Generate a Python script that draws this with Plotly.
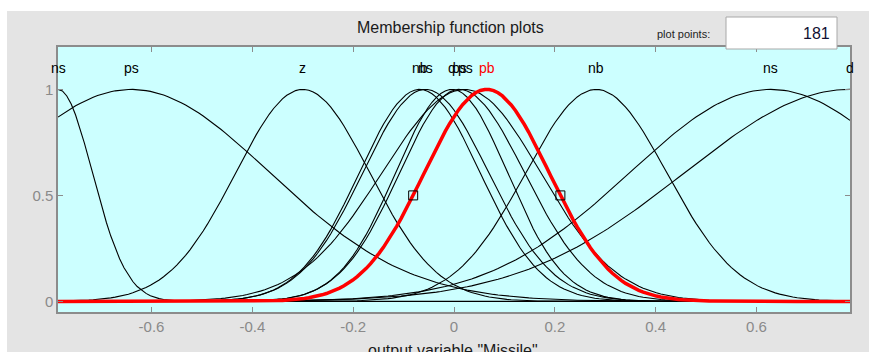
import numpy as np
import plotly.graph_objects as go

# Membership functions of output variable "Missile"
# (two-sided gaussian: center, left sigma, right sigma)
mf_names    = ["ns", "ps", "z", "nb", "ns", "d", "ps", "ps", "nb", "ns", "d", "pb"]
mf_centers  = [-0.785, -0.64, -0.30, -0.068, -0.057, -0.004, 0.010, 0.022, 0.282, 0.628, 0.785, 0.065]
mf_sigma_l  = [0.068, 0.275, 0.133, 0.120, 0.124, 0.112, 0.118, 0.165, 0.140, 0.280, 0.328, 0.124]
mf_sigma_r  = [0.068, 0.275, 0.133, 0.120, 0.126, 0.110, 0.130, 0.150, 0.140, 0.280, 0.328, 0.124]
selected_mf = "pb"  # highlighted (last) function
x_range = [-np.pi / 4, np.pi / 4]
plot_points = 181
x_ticks = [-0.6, -0.4, -0.2, 0, 0.2, 0.4, 0.6]
y_ticks = [0, 0.5, 1]

W, H = 869, 352
L, R, T, B = 58, 850, 47, 312  # plot area in pixels


def px(xp):
    return (xp - L) / (R - L)


def py(yp):
    return (B - yp) / (B - T)


xs = np.linspace(x_range[0], x_range[1], plot_points)
fig = go.Figure()

n = len(mf_names)
for i in range(n):
    c = mf_centers[i]
    s = np.where(xs < c, mf_sigma_l[i], mf_sigma_r[i])
    ys = np.exp(-((xs - c) ** 2) / (2 * s * s))
    sel = (i == n - 1)
    fig.add_trace(go.Scatter(
        x=xs, y=ys, mode="lines",
        line=dict(color="#ff0000" if sel else "#000000", width=3.5 if sel else 1.1),
        hoverinfo="skip", showlegend=False))

# half-height handles on selected MF
c = mf_centers[-1]
k = np.sqrt(2 * np.log(2))
fig.add_trace(go.Scatter(
    x=[c - mf_sigma_l[-1] * k, c + mf_sigma_r[-1] * k], y=[0.5, 0.5], mode="markers",
    marker=dict(symbol="square-open", size=9, color="#000000", line=dict(width=1)),
    hoverinfo="skip", showlegend=False))

# MF name labels
for i in range(n):
    sel = (i == n - 1)
    fig.add_annotation(x=mf_centers[i], y=1.1, xref="x", yref="y", text=mf_names[i],
                       showarrow=False, xanchor="center", yanchor="middle",
                       font=dict(family="Liberation Sans, Arial", size=14,
                                 color="#ff0000" if sel else "#000000"))

# white margins around the grey panel (top strip and left strip)
fig.add_shape(type="rect", xref="paper", yref="paper",
              x0=px(-5), x1=px(W + 5), y0=py(11), y1=py(-5),
              fillcolor="#ffffff", line=dict(width=0))
fig.add_shape(type="rect", xref="paper", yref="paper",
              x0=px(-5), x1=px(7), y0=py(H + 5), y1=py(-5),
              fillcolor="#ffffff", line=dict(width=0))
# plot points box
fig.add_shape(type="rect", xref="paper", yref="paper",
              x0=px(726), x1=px(837), y0=py(49), y1=py(17),
              fillcolor="#ffffff", line=dict(color="#a8a8a8", width=1))

fig.add_annotation(x=px(450), y=py(27), xref="paper", yref="paper",
                   text="Membership function plots", showarrow=False,
                   xanchor="center", yanchor="middle",
                   font=dict(family="Liberation Sans, Arial", size=16, color="#1a1a1a"))
fig.add_annotation(x=px(712), y=py(34), xref="paper", yref="paper",
                   text="plot points:", showarrow=False,
                   xanchor="right", yanchor="middle",
                   font=dict(family="Liberation Sans, Arial", size=11, color="#222222"))
fig.add_annotation(x=px(832), y=py(33), xref="paper", yref="paper",
                   text=str(plot_points), showarrow=False,
                   xanchor="right", yanchor="middle",
                   font=dict(family="Liberation Sans, Arial", size=16, color="#111133"))
fig.add_annotation(x=px(453), y=py(340), xref="paper", yref="paper",
                   text='output variable "Missile"', showarrow=False,
                   xanchor="center", yanchor="top",
                   font=dict(family="Liberation Sans, Arial", size=16, color="#1a1a1a"))

axis_common = dict(showgrid=False, zeroline=False, showline=True, linecolor="#8c8c8c",
                   linewidth=1.5, mirror="ticks", ticks="inside", ticklen=5,
                   tickcolor="#8c8c8c",
                   tickfont=dict(family="Liberation Sans, Arial", size=15, color="#8a8a8a"))

fig.update_layout(
    width=W, height=H,
    margin=dict(l=L, r=W - R, t=T, b=H - B, pad=0),
    paper_bgcolor="#e4e4e4", plot_bgcolor="#ccffff",
    xaxis=dict(range=x_range, tickvals=x_ticks,
               ticktext=[f"{v:g}" for v in x_ticks], **axis_common),
    yaxis=dict(range=[-0.05, 1.2], tickvals=y_ticks,
               ticktext=[f"{v:g}" for v in y_ticks], **axis_common),
)

fig.write_html("out.html", config={"displayModeBar": False},
               post_script="document.body.style.margin='0px';document.body.style.overflow='hidden';")
